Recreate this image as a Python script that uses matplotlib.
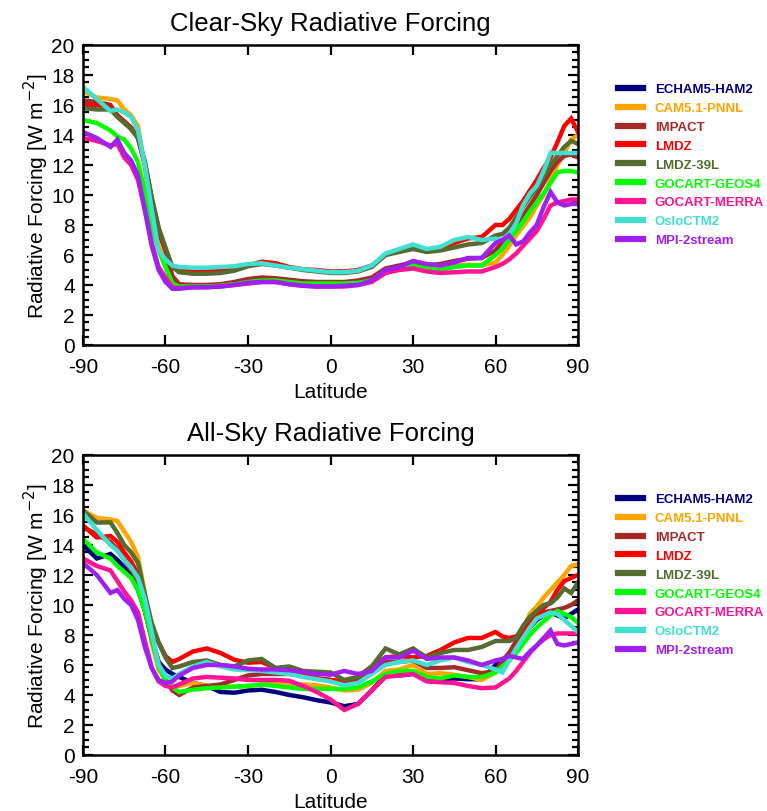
import numpy as np
import matplotlib.pyplot as plt
from matplotlib.lines import Line2D
from matplotlib.ticker import MultipleLocator

plt.rcParams['font.family'] = ['Liberation Sans', 'DejaVu Sans']
plt.rcParams['axes.unicode_minus'] = False

lat = [-90, -85, -80, -77.5, -75, -72.5, -70, -67.5, -65, -62.5, -60, -57.5, -55,
       -50, -45, -40, -35, -30, -25, -20, -15, -10, -5, 0, 5, 10, 15, 20, 25, 30,
       35, 40, 45, 50, 55, 60, 62.5, 65, 67.5, 70, 72.5, 75, 77.5, 80, 82.5, 85, 87.5, 90]

models = ["ECHAM5-HAM2", "CAM5.1-PNNL", "IMPACT", "LMDZ", "LMDZ-39L",
          "GOCART-GEOS4", "GOCART-MERRA", "OsloCTM2", "MPI-2stream"]
colors = ["#00007f", "#ffa500", "#a52a2a", "#ff0000", "#556b2f",
          "#00ff00", "#ff1493", "#40e0d0", "#a020f0"]

# clear-sky forcing (W m-2); ECHAM5-HAM2 has no clear-sky field
clear_echam = None
clear_cam = [16.9, 16.5, 16.4, 16.3, 15.7, 15.3, 14.6, 11.8, 8.5, 6.6, 5.5, 4.3, 3.95,
             3.95, 4.0, 4.0, 4.1, 4.3, 4.35, 4.3, 4.2, 4.1, 4.05, 4.0, 4.0, 4.1, 4.3, 4.9, 5.1, 5.2,
             5.1, 5.1, 5.3, 5.35, 5.3, 5.5, 6.0, 6.6, 7.3, 7.9, 8.5, 9.3, 10.0, 11.0, 12.0, 12.8, 13.7, 14.0]
clear_impact = [16.3, 16.2, 16.0, 15.3, 14.9, 14.4, 13.8, 12.2, 9.8, 7.8, 6.3, 4.6, 4.05,
                4.0, 4.0, 4.05, 4.2, 4.4, 4.5, 4.45, 4.35, 4.25, 4.2, 4.2, 4.2, 4.3, 4.5, 5.1, 5.3, 5.5,
                5.3, 5.4, 5.6, 5.75, 5.8, 6.3, 6.9, 7.4, 8.0, 8.6, 9.3, 10.0, 10.8, 11.6, 12.2, 12.6, 12.7, 12.5]
clear_lmdz = [16.0, 16.0, 15.9, 15.3, 14.9, 14.5, 13.8, 12.0, 9.5, 7.5, 6.3, 5.2, 4.95,
              4.9, 4.9, 4.95, 5.1, 5.3, 5.55, 5.45, 5.2, 5.05, 5.0, 4.9, 4.9, 5.0, 5.3, 6.0, 6.3, 6.5,
              6.3, 6.4, 6.8, 7.1, 7.2, 8.0, 8.0, 8.4, 9.0, 9.6, 10.3, 11.0, 11.8, 12.5, 13.5, 14.6, 15.1, 14.2]
clear_lmdz39 = [15.8, 15.7, 15.7, 15.2, 14.8, 14.4, 13.8, 12.2, 9.8, 7.8, 6.5, 5.2, 4.85,
                4.75, 4.75, 4.8, 4.95, 5.25, 5.4, 5.3, 5.15, 5.0, 4.9, 4.8, 4.8, 4.9, 5.2, 6.0, 6.2, 6.4,
                6.2, 6.3, 6.5, 6.7, 6.8, 7.3, 7.4, 7.8, 8.5, 9.2, 9.9, 10.5, 11.2, 12.0, 12.6, 13.2, 13.6, 13.4]
clear_geos4 = [15.0, 14.8, 14.3, 13.9, 13.7, 13.1, 12.2, 10.2, 8.0, 6.3, 5.2, 4.1, 3.9,
               3.9, 3.9, 3.95, 4.05, 4.2, 4.3, 4.3, 4.2, 4.1, 4.1, 4.1, 4.1, 4.15, 4.3, 4.9, 5.1, 5.3,
               5.1, 5.0, 5.2, 5.3, 5.3, 6.0, 6.4, 7.0, 7.6, 8.2, 8.9, 9.5, 10.1, 10.8, 11.5, 11.6, 11.6, 11.5]
clear_merra = [13.8, 13.6, 13.3, 13.4, 12.5, 12.0, 11.0, 9.0, 6.8, 5.2, 4.5, 3.85, 3.8,
               3.85, 3.85, 3.9, 4.0, 4.1, 4.2, 4.2, 4.05, 3.95, 3.9, 3.9, 3.9, 4.0, 4.2, 4.8, 5.0, 5.1,
               4.9, 4.8, 4.85, 4.9, 4.9, 5.2, 5.4, 5.7, 6.1, 6.6, 7.1, 7.6, 8.4, 9.3, 9.5, 9.6, 9.7, 9.7]
clear_oslo = [17.2, 16.4, 15.6, 15.7, 15.5, 15.2, 14.3, 12.0, 9.0, 6.3, 5.7, 5.3, 5.2,
              5.15, 5.15, 5.2, 5.25, 5.4, 5.45, 5.3, 5.15, 5.05, 4.95, 4.85, 4.85, 4.95, 5.3, 6.1, 6.4, 6.7,
              6.4, 6.55, 7.0, 7.2, 7.0, 7.1, 7.0, 7.4, 8.1, 9.3, 10.1, 10.6, 11.6, 12.8, 12.8, 12.8, 12.8, 12.8]
clear_mpi = [14.2, 13.8, 13.2, 13.7, 12.8, 12.3, 11.3, 9.0, 6.6, 5.0, 4.2, 3.75, 3.75,
             3.85, 3.85, 3.9, 4.0, 4.15, 4.2, 4.2, 4.05, 3.95, 3.9, 3.9, 3.95, 4.0, 4.3, 5.0, 5.2, 5.6,
             5.4, 5.3, 5.5, 5.8, 5.8, 6.8, 7.0, 7.3, 6.7, 6.9, 7.5, 8.0, 9.2, 10.2, 9.5, 9.3, 9.4, 9.4]

# all-sky forcing (W m-2)
all_echam = [14.0, 13.1, 13.4, 13.0, 12.5, 11.9, 11.0, 9.6, 7.8, 6.2, 5.7, 5.4, 5.2,
             4.8, 4.6, 4.2, 4.15, 4.3, 4.35, 4.2, 4.0, 3.85, 3.65, 3.5, 3.25, 3.4, 4.3, 5.3, 5.3, 5.4,
             5.1, 5.05, 5.1, 5.05, 5.05, 6.0, 6.3, 6.8, 7.2, 7.8, 8.5, 9.0, 9.3, 9.5, 9.3, 9.1, 9.4, 9.7]
all_cam = [16.3, 15.8, 15.7, 15.6, 14.9, 14.2, 13.2, 10.8, 7.5, 5.7, 5.0, 4.6, 4.6,
           4.8, 4.6, 4.55, 4.55, 4.6, 4.7, 4.75, 4.65, 4.7, 4.65, 4.5, 4.3, 4.35, 4.8, 5.6, 5.7, 6.0,
           5.4, 5.45, 5.35, 5.2, 5.0, 5.5, 6.2, 6.8, 7.5, 8.4, 9.4, 9.9, 10.5, 11.0, 11.5, 12.0, 12.6, 12.7]
all_impact = [15.2, 14.7, 14.2, 13.7, 13.0, 12.4, 11.6, 9.6, 7.7, 6.2, 5.0, 4.3, 4.0,
              4.5, 4.6, 4.7, 5.0, 5.3, 5.4, 5.4, 5.4, 5.3, 5.1, 5.0, 4.85, 5.0, 5.5, 6.2, 6.2, 6.3,
              5.8, 5.8, 5.85, 5.65, 5.45, 5.6, 6.2, 6.8, 7.6, 8.3, 9.0, 9.3, 9.5, 9.6, 9.7, 9.8, 10.0, 10.3]
all_lmdz = [15.3, 14.5, 14.6, 14.2, 13.5, 12.9, 12.0, 10.0, 8.6, 7.5, 6.6, 6.2, 6.4,
            6.9, 7.1, 6.8, 6.35, 6.15, 6.2, 5.8, 5.5, 5.3, 5.1, 5.0, 4.9, 5.2, 5.9, 6.5, 6.6, 6.5,
            6.6, 7.0, 7.5, 7.8, 7.8, 8.2, 7.9, 7.8, 7.9, 8.3, 8.8, 9.3, 9.8, 10.2, 11.0, 11.6, 11.8, 12.0]
all_lmdz39 = [16.3, 15.5, 15.5, 14.8, 14.0, 13.5, 12.8, 10.7, 8.8, 7.5, 6.5, 5.8, 5.9,
              6.2, 6.3, 6.0, 5.9, 6.3, 6.4, 5.8, 5.9, 5.6, 5.55, 5.5, 5.0, 5.2, 5.9, 7.1, 6.7, 7.1,
              6.5, 6.8, 7.0, 7.0, 7.2, 7.6, 7.6, 7.6, 7.8, 8.6, 9.2, 9.6, 10.0, 10.1, 10.5, 11.1, 10.8, 11.5]
all_geos4 = [14.4, 13.5, 13.1, 12.6, 12.2, 11.8, 11.0, 9.6, 7.8, 5.9, 5.0, 4.5, 4.2,
             4.35, 4.45, 4.5, 4.55, 4.6, 4.7, 4.6, 4.5, 4.4, 4.4, 4.4, 4.4, 4.5, 4.9, 5.4, 5.6, 5.6,
             5.2, 5.1, 5.3, 5.2, 5.2, 5.5, 5.9, 6.3, 6.8, 7.4, 8.0, 8.5, 8.9, 9.3, 9.6, 9.4, 9.2, 8.8]
all_merra = [13.1, 12.6, 12.3, 11.6, 10.9, 10.3, 9.5, 7.6, 5.8, 4.9, 4.6, 4.5, 4.7,
             5.1, 5.2, 5.15, 5.1, 5.0, 5.0, 5.0, 4.95, 4.6, 4.2, 3.7, 3.0, 3.4, 4.3, 5.2, 5.3, 5.4,
             4.9, 4.85, 4.8, 4.6, 4.45, 4.5, 4.8, 5.1, 5.6, 6.2, 6.8, 7.3, 7.7, 8.0, 8.1, 8.1, 8.1, 8.1]
all_oslo = [16.1, 15.0, 14.0, 13.6, 13.0, 12.5, 11.8, 10.4, 8.2, 6.0, 5.3, 5.1, 5.4,
            5.9, 6.2, 5.9, 5.7, 5.65, 5.6, 5.5, 5.4, 5.2, 5.05, 4.9, 4.65, 4.8, 5.4, 6.0, 6.2, 6.3,
            6.0, 6.3, 6.5, 6.2, 6.0, 5.7, 5.5, 6.3, 7.1, 7.8, 8.5, 9.1, 9.3, 9.5, 9.4, 9.0, 8.6, 8.2]
all_mpi = [12.8, 12.0, 10.8, 11.0, 10.4, 10.0, 9.0, 7.2, 5.8, 5.0, 4.8, 4.9, 5.3,
           5.8, 6.0, 6.0, 5.9, 5.75, 5.7, 5.7, 5.65, 5.55, 5.4, 5.35, 5.6, 5.4, 5.6, 6.5, 6.5, 6.95,
           6.4, 6.5, 6.5, 6.3, 6.0, 6.3, 6.4, 6.6, 6.5, 6.4, 6.9, 7.3, 7.8, 8.3, 7.4, 7.3, 7.4, 7.5]

clear_sky = [clear_echam, clear_cam, clear_impact, clear_lmdz, clear_lmdz39,
             clear_geos4, clear_merra, clear_oslo, clear_mpi]
all_sky = [all_echam, all_cam, all_impact, all_lmdz, all_lmdz39,
           all_geos4, all_merra, all_oslo, all_mpi]

fig = plt.figure(figsize=(7.67, 8.12), dpi=100)
ax1 = fig.add_axes([0.1082, 0.5739, 0.6454, 0.3695])
ax2 = fig.add_axes([0.1082, 0.0690, 0.6454, 0.3695])


def draw_panel(ax, series, title):
    for vals, c in zip(series, colors):
        if vals is None:
            continue
        ax.plot(lat, vals, color=c, lw=3.2, solid_joinstyle='miter')
    ax.set_xlim(-90, 90)
    ax.set_ylim(0, 20)
    ax.set_xticks([-90, -60, -30, 0, 30, 60, 90])
    ax.set_yticks(range(0, 21, 2))
    ax.yaxis.set_minor_locator(MultipleLocator(0.5))
    ax.tick_params(which='both', direction='in', top=True, right=True, width=1.6, labelsize=15)
    ax.tick_params(which='major', length=7)
    ax.tick_params(which='minor', length=4)
    ax.tick_params(axis='x', pad=9)
    ax.tick_params(axis='y', pad=6)
    for s in ax.spines.values():
        s.set_linewidth(1.8)
    ax.set_xlabel("Latitude", fontsize=15, labelpad=4)
    ax.set_ylabel("Radiative Forcing [W m$^{-2}$]", fontsize=15, labelpad=0)
    ax.set_title(title, fontsize=18.5, pad=11)

    handles = [Line2D([], [], color=c, lw=4.5) for c in colors]
    leg = ax.legend(handles, models, loc='upper left', bbox_to_anchor=(1.07, 0.89),
                    frameon=False, handlelength=1.9, handletextpad=0.9,
                    labelspacing=0.5, borderaxespad=0,
                    prop={'size': 9.5, 'weight': 'bold'})
    for txt, c in zip(leg.get_texts(), colors):
        txt.set_color(c)


draw_panel(ax1, clear_sky, "Clear-Sky Radiative Forcing")
draw_panel(ax2, all_sky, "All-Sky Radiative Forcing")

fig.savefig("out.png", dpi=100)
